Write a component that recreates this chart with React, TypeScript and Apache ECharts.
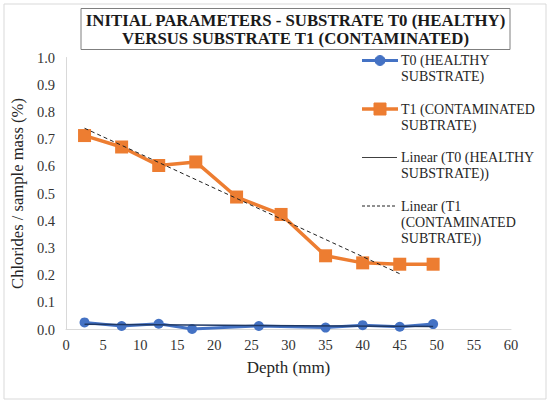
import React, { useEffect, useRef } from "react";
import * as echarts from "echarts";

const depthT0 = [2.5, 7.5, 12.5, 17, 26, 35, 40, 45, 49.5];
const valuesT0 = [0.026, 0.013, 0.021, 0.002, 0.013, 0.007, 0.016, 0.01, 0.02];
const depthT1 = [2.5, 7.5, 12.5, 17.5, 23, 29, 35, 40, 45, 49.5];
const valuesT1 = [0.713, 0.671, 0.603, 0.616, 0.487, 0.423, 0.271, 0.245, 0.24, 0.24];
const trendT0X = [2.5, 49.5];
const trendT0Y = [0.019, 0.011];
const trendT1X = [2.5, 45];
const trendT1Y = [0.74, 0.205];
const legendNames = [
  "T0 (HEALTHY\nSUBSTRATE)",
  "T1 (CONTAMINATED\nSUBTRATE)",
  "Linear (T0 (HEALTHY\nSUBSTRATE))",
  "Linear (T1\n(CONTAMINATED\nSUBTRATE))",
];
const titleText = "INITIAL PARAMETERS - SUBSTRATE T0 (HEALTHY)\nVERSUS SUBSTRATE T1 (CONTAMINATED)";
const xTicks = { min: 0, max: 60, interval: 5 };
const yTicks = { min: 0, max: 1, interval: 0.1 };

const FONT = "Liberation Serif";
const BLUE = "#4472C4";
const ORANGE = "#ED7D31";
const NAVY = "#1F3864";

const zip = (xs: number[], ys: number[]) => xs.map((x, i) => [x, ys[i]]);

export default function App() {
  const ref = useRef<HTMLDivElement>(null);
  useEffect(() => {
    document.body.style.margin = "0";
    const chart = echarts.init(ref.current!, null, { renderer: "svg" });

    const legendX = 362;
    const legendTextX = 401;
    const legendY0 = 60.5;
    const pitch = 48.5;
    const legendIcons: any[] = [];
    const legendTitles: any[] = [];
    legendNames.forEach((name, i) => {
      const y = legendY0 + i * pitch;
      if (i === 0) {
        legendIcons.push({ type: "line", shape: { x1: legendX, y1: y, x2: legendX + 36, y2: y }, style: { stroke: BLUE, lineWidth: 3 } });
        legendIcons.push({ type: "circle", shape: { cx: legendX + 18, cy: y, r: 5 }, style: { fill: BLUE, stroke: BLUE } });
      } else if (i === 1) {
        legendIcons.push({ type: "line", shape: { x1: legendX, y1: y, x2: legendX + 36, y2: y }, style: { stroke: ORANGE, lineWidth: 3.5 } });
        legendIcons.push({ type: "rect", shape: { x: legendX + 12, y: y - 6, width: 12, height: 12 }, style: { fill: ORANGE, stroke: ORANGE } });
      } else if (i === 2) {
        legendIcons.push({ type: "line", shape: { x1: legendX, y1: y, x2: legendX + 35, y2: y }, style: { stroke: "#404040", lineWidth: 1.2 } });
      } else {
        legendIcons.push({ type: "line", shape: { x1: legendX, y1: y, x2: legendX + 35, y2: y }, style: { stroke: "#202020", lineWidth: 1, lineDash: [3, 2] } });
      }
      legendTitles.push({
        text: name,
        left: legendTextX,
        top: y - 8,
        padding: 0,
        textStyle: { fontFamily: FONT, fontSize: 14, fontWeight: "normal", lineHeight: 16, color: "#262626" },
      });
    });

    chart.setOption({
      animation: false,
      backgroundColor: "#ffffff",
      title: [
        {
          text: titleText,
          left: 291,
          top: 8,
          textAlign: "center",
          padding: [3, 4.5, 3, 4.5],
          borderColor: "#7f7f7f",
          borderWidth: 1,
          textStyle: { fontFamily: FONT, fontSize: 16.8, fontWeight: "bold", lineHeight: 18, color: "#1a1a1a" },
        },
        ...legendTitles,
      ],
      graphic: [
        {
          type: "rect",
          shape: { x: 4, y: 4, width: 542, height: 395 },
          style: { fill: "none", stroke: "#d9d9d9", lineWidth: 1 },
          z: -1,
        },
        ...legendIcons,
      ],
      grid: { left: 66, right: 39, top: 57.5, bottom: 73.5, containLabel: false },
      xAxis: {
        type: "value",
        min: xTicks.min,
        max: xTicks.max,
        interval: xTicks.interval,
        name: "Depth (mm)",
        nameLocation: "middle",
        nameGap: 29,
        nameTextStyle: { fontFamily: FONT, fontSize: 17, color: "#262626" },
        axisLine: { show: true, lineStyle: { color: "#d9d9d9", width: 1 } },
        axisTick: { show: false },
        splitLine: { show: false },
        axisLabel: { fontFamily: FONT, fontSize: 14.5, color: "#333333", margin: 8 },
      },
      yAxis: {
        type: "value",
        min: yTicks.min,
        max: yTicks.max,
        interval: yTicks.interval,
        name: "Chlorides / sample mass (%)",
        nameLocation: "middle",
        nameGap: 34,
        nameTextStyle: { fontFamily: FONT, fontSize: 16.6, color: "#262626" },
        axisLine: { show: true, lineStyle: { color: "#d9d9d9", width: 1 } },
        axisTick: { show: false },
        splitLine: { show: false },
        axisLabel: {
          fontFamily: FONT,
          fontSize: 14.5,
          color: "#333333",
          margin: 11,
          formatter: (v: number) => v.toFixed(1),
        },
      },
      series: [
        {
          name: legendNames[0],
          type: "line",
          data: zip(depthT0, valuesT0),
          symbol: "circle",
          symbolSize: 10,
          lineStyle: { color: BLUE, width: 3 },
          itemStyle: { color: BLUE },
          z: 2,
        },
        {
          name: legendNames[1],
          type: "line",
          data: zip(depthT1, valuesT1),
          symbol: "rect",
          symbolSize: 13,
          lineStyle: { color: ORANGE, width: 3.5 },
          itemStyle: { color: ORANGE },
          z: 3,
        },
        {
          name: legendNames[2],
          type: "line",
          data: zip(trendT0X, trendT0Y),
          symbol: "none",
          lineStyle: { color: NAVY, width: 1.5 },
          z: 4,
        },
        {
          name: legendNames[3],
          type: "line",
          data: zip(trendT1X, trendT1Y),
          symbol: "none",
          lineStyle: { color: "#202020", width: 1, type: [4, 3] },
          z: 5,
        },
      ],
    });
    return () => chart.dispose();
  }, []);
  return <div ref={ref} style={{ width: 550, height: 403 }} />;
}
